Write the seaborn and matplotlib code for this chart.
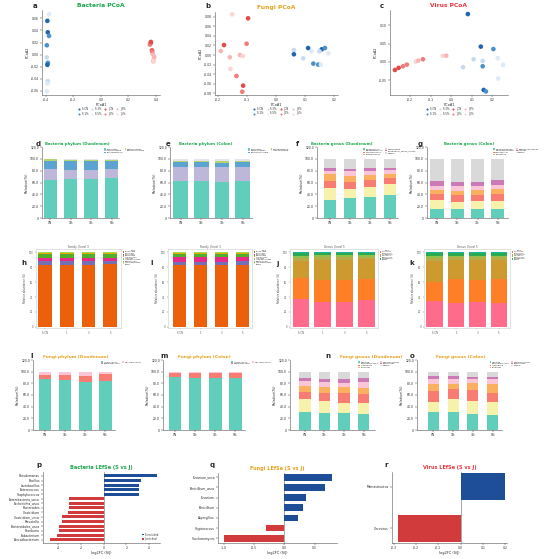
import numpy as np
import pandas as pd
import matplotlib
matplotlib.use("Agg")
import matplotlib.pyplot as plt
import seaborn as sns

# ============================================
# Data
# ============================================
groups = ["S CN", "S 1%", "S 3%", "S 5%", "J CN", "J 1%", "J 3%", "J 5%"]
group_colors = ["#2166ac", "#4a90c9", "#c6dbef", "#deebf7",
                "#e34a4a", "#f07c7c", "#f7b6b6", "#fbd5d5"]

a_x = [-0.376, -0.388, -0.385, -0.376, -0.392, -0.392, -0.383, -0.385, -0.388, -0.385, -0.388, -0.392,
       0.361, 0.356, 0.371, 0.376, 0.385, 0.380, 0.363, 0.372, 0.378, 0.383, 0.387, 0.381]
a_y = [0.067, 0.056, 0.037, 0.031, 0.0155, -0.0045, -0.013, -0.014, -0.017, -0.044, -0.048, -0.061,
       0.019, 0.0166, 0.007, 0.0017, -0.0067, -0.0107, 0.021, 0.005, 0.0, -0.009, -0.004, -0.012]
a_g = ["S 5%", "S CN", "S CN", "S 1%", "S 1%", "S 3%", "S 3%", "S 1%", "S CN", "S 3%", "S 5%", "S 5%",
       "J CN", "J 1%", "J CN", "J 3%", "J 5%", "J 1%", "J CN", "J 1%", "J 3%", "J 5%", "J 3%", "J 5%"]

b_x = [-0.151, -0.096, -0.101, -0.179, -0.190, -0.124, -0.114, -0.159, -0.157, -0.136, -0.113, -0.116,
       0.062, 0.062, 0.111, 0.123, 0.094, 0.129, 0.146, 0.155, 0.158, 0.169, 0.150, 0.181]
b_y = [0.085, 0.0766, 0.0236, 0.0209, 0.0084, 0.0, -0.002, -0.0048, -0.029, -0.0438, -0.064, -0.0766,
       0.0104, 0.0015, 0.0146, 0.0077, -0.0069, -0.018, -0.020, -0.020, 0.0119, 0.0146, 0.0077, 0.0035]
b_g = ["J 5%", "J CN", "J 1%", "J CN", "J 3%", "J 3%", "J 5%", "J 3%", "J 5%", "J 1%", "J CN", "J 1%",
       "S 3%", "S CN", "S CN", "S 5%", "S 3%", "S 1%", "S 1%", "S 5%", "S CN", "S 1%", "S 3%", "S 5%"]

c_x = [0.081, 0.144, 0.205, 0.109, 0.153, 0.226, 0.252, 0.153, 0.058, 0.228, 0.158, 0.169,
       -0.273, -0.255, -0.234, -0.215, -0.172, -0.160, -0.137, -0.041, -0.024]
c_y = [0.130, 0.0416, 0.035, 0.0073, 0.0027, 0.010, -0.008, -0.0117, -0.0144, -0.045, -0.076, -0.080,
       -0.0217, -0.016, -0.0117, -0.0073, 0.0008, 0.0035, 0.0073, 0.0163, 0.017]
c_g = ["S CN", "S CN", "S 1%", "S 3%", "S 3%", "S 5%", "S 5%", "S 1%", "S 3%", "S 5%", "S CN", "S 1%",
       "J CN", "J CN", "J 1%", "J 1%", "J 5%", "J 3%", "J 1%", "J 5%", "J 3%"]

doses = ["CN", "1%", "3%", "5%"]
doses_v = ["S CN", "1", "3", "5"]

# bacteria phylum
d_taxa = ["Firmicutes", "Actinobacteria", "Proteobacteria", "Bacteroidetes", "Verrucomicrobia"]
d_vals = [[65, 66, 66, 67], [17, 15, 15, 16], [15, 15.5, 15.5, 14], [2, 2, 2, 1.8], [1, 1.5, 1.5, 1.2]]
e_taxa = ["Firmicutes", "Bacteroidetes", "Verrucomicrobia", "Proteobacteria", "Actinobacteria"]
e_vals = [[62, 63, 61, 63], [25, 24, 26, 24], [7, 7, 6.5, 7], [3, 3, 3.5, 3], [3, 3, 3, 3]]
phylum_colors = ["#61cdbb", "#bdb7d9", "#5ba3d0", "#b3d66c", "#e6e3ef"]

# bacteria genus
f_taxa = ["Lactobacillus", "Bifidobacterium", "Streptococcus", "Enterococcus",
          "Romboutsia", "Clostridium_sensu_stricto", "Others"]
f_vals = [[31, 34.5, 35.7, 39], [19.4, 15.3, 16.3, 18.2], [12.4, 11.2, 12, 9.6], [10.8, 10.3, 9, 7.9],
          [6.2, 7.4, 6.2, 6.3], [4, 4.5, 4.6, 4], [16.2, 16.8, 16.2, 15]]
g_taxa = ["Muribaculaceae", "Lachnospiraceae", "Oscillibacter", "Prevotella",
          "Ruminococcaceae", "Alistipes", "Others"]
g_vals = [[15.8, 14.7, 15.8, 15.8], [14.2, 12.5, 12.5, 12.5], [10.2, 11.3, 10.2, 13], [7.9, 6.8, 8.5, 7.4],
          [6.8, 8.5, 7.3, 7.9], [6.8, 7.3, 6.8, 7.4], [38.3, 38.9, 38.9, 36]]
genus_colors = ["#61cdbb", "#f6f2ac", "#f97c73", "#fbb05f", "#fbc5d8", "#cc7ab6", "#d9d9d9"]

# virus family / genus
h_taxa = ["Siphoviridae", "Myoviridae", "Podoviridae", "Microviridae", "Herelleviridae",
          "Inoviridae", "Autographiviridae", "Drexlerviridae", "Ackermannviridae", "Others"]
h_vals = [[83.0, 83.2, 83.0, 84.3], [5.4, 5.0, 5.3, 4.2], [4.5, 4.6, 4.6, 4.5], [4.8, 4.8, 4.7, 4.6],
          [1.2, 1.3, 1.3, 1.3], [0.3] * 4, [0.25] * 4, [0.2] * 4, [0.2] * 4, [0.15] * 4]
i_vals = [[83.0, 82.8, 83.1, 83.2], [4.7, 4.9, 4.6, 4.8], [5.5, 5.4, 5.5, 5.2], [4.4, 4.6, 4.5, 4.5],
          [1.2, 1.1, 1.1, 1.1], [0.35] * 4, [0.3] * 4, [0.25] * 4, [0.2] * 4, [0.1] * 4]
family_colors = ["#ec5f0b", "#7570b3", "#e7298a", "#4daf2a", "#e6ab02",
                 "#f4a582", "#66c2a5", "#8da0cb", "#a6d854", "#fdd49e"]
j_taxa = ["Skunavirus", "Teubervirus", "Sandinevirus", "Tubulavirus",
          "Pahexavirus", "Lambdavirus", "Others"]
j_vals = [[37.3, 34.0, 34.0, 35.4], [28.7, 28.7, 28.7, 29.2], [22.6, 27.3, 27.0, 26.0], [4.4, 3.5, 3.8, 3.4],
          [2.4, 2.3, 2.3, 2.2], [3.6, 3.2, 3.2, 2.8], [1.0] * 4]
k_vals = [[34.5, 31.5, 34.0, 31.5], [26.0, 32.1, 28.3, 33.1], [28.3, 25.6, 26.9, 24.6], [4.2, 4.0, 4.0, 4.0],
          [2.5] * 4, [3.5, 3.3, 3.3, 3.3], [1.0] * 4]
vgenus_colors = ["#ff6b8b", "#ff7f27", "#cc9a2e", "#b8ab4a", "#8fc24a", "#2bab4f", "#19b3a3"]

# fungi phylum / genus
l_taxa = ["Ascomycota", "Basidiomycota", "Mucoromycota"]
l_vals = [[86.9, 85.7, 82.9, 84.0], [7.4, 8.6, 9.7, 11.4], [5.7, 5.7, 7.4, 4.6]]
m_vals = [[90.3, 88.6, 89.7, 88.6], [6.8, 8.5, 7.4, 8.5], [2.9] * 4]
fphylum_colors = ["#61cdbb", "#f97c73", "#fbc5d8"]
n_taxa = ["Candida", "Saccharomyces", "Aspergillus", "Fusarium", "Debaryomyces", "Penicillium", "Others"]
n_vals = [[31.4, 28.6, 29.7, 26.9], [21.2, 21.1, 16, 20], [13.1, 14.3, 18.3, 14.1], [10.3, 9, 9, 10.4],
          [8.6, 9.3, 8, 10.9], [5.1, 5.1, 6.4, 6.3], [10.3, 12.6, 12.6, 11.4]]
o_vals = [[31.4, 30.3, 26.9, 25.7], [17.2, 22.8, 22.8, 22.9], [17.7, 16.6, 18.9, 15.4], [12, 9.7, 11.4, 14.3],
          [8.6, 7.5, 6.9, 9.1], [6.2, 6.2, 4, 4], [6.9, 6.9, 9.1, 8.6]]

# LEfSe
p_names = ["Pseudomonas", "Bacillus", "Lactobacillus", "Enterococcus", "Staphylococcus",
           "Enterobacteria_unca", "Escherichia_unca", "Bacteroides", "Clostridium", "Clostridium_unca",
           "Prevotella", "Bacteroidales_unca", "Roseburia", "Eubacterium", "Faecalibacterium"]
p_lfc = [4.72, 3.29, 3.14, 3.12, 3.08, -3.03, -3.06, -3.09, -3.17, -3.65, -3.65, -3.91, -3.97, -4.14, -4.76]
q_names = ["Fusarium_unca", "Penicillium_unca", "Fusarium", "Penicillium", "Aspergillus",
           "Cryptococcus", "Saccharomyces"]
q_lfc = [0.79, 0.67, 0.36, 0.31, 0.22, -0.30, -1.0]
r_names = ["Mamastrovirus", "Circovirus"]
r_lfc = [0.2, -0.28]

GREEN, ORANGE, RED = "#1aa64a", "#e6a21e", "#e8373e"
S_BLUE, J_RED = "#1f4e99", "#d13b3b"

# ============================================
# Figure setup
# ============================================
sns.set_theme(style="ticks")
plt.rcParams["font.family"] = ["DejaVu Sans"]
plt.rcParams["axes.linewidth"] = 0.4
plt.rcParams["axes.edgecolor"] = "#555555"

W, H = 550, 559
fig = plt.figure(figsize=(5.5, 5.59), dpi=100)


def rect(l, t, r, b):
    return [l / W, 1 - b / H, (r - l) / W, (b - t) / H]


def letter(x, y, s):
    fig.text(x / W, 1 - y / H, s, fontsize=5, fontweight="bold", va="center", ha="left")


def style(ax):
    sns.despine(ax=ax)
    ax.tick_params(labelsize=2.2, length=1.2, width=0.3, pad=1)


def pcoa(box, xs, ys, grp, title, color, xticks, yticks, xlim, ylim, xf, yf):
    ax = fig.add_axes(rect(*box))
    df = pd.DataFrame({"PCoA1": xs, "PCoA2": ys, "Group": grp})
    sns.scatterplot(data=df, x="PCoA1", y="PCoA2", hue="Group", hue_order=groups,
                    palette=dict(zip(groups, group_colors)), s=11, linewidth=0, ax=ax)
    ax.set_xlim(xlim)
    ax.set_ylim(ylim)
    ax.set_xticks(xticks)
    ax.set_xticklabels([xf % t for t in xticks])
    ax.set_yticks(yticks)
    ax.set_yticklabels([yf % t for t in yticks])
    style(ax)
    ax.set_xlabel("PCoA1", fontsize=2.5, labelpad=1)
    ax.set_ylabel("PCoA2", fontsize=2.5, labelpad=1)
    ax.set_title(title, fontsize=4.3, fontweight="bold", color=color, pad=2)
    ax.legend(loc="upper center", bbox_to_anchor=(0.5, -0.13), ncol=4, fontsize=1.8,
              markerscale=0.45, frameon=False, handletextpad=0.1, columnspacing=0.6,
              borderpad=0, labelspacing=0.15)
    return ax


def stacked(box, taxa, vals, colors, title, tcolor, tsize, tx, width, xlim, leg_x):
    ax = fig.add_axes(rect(*box))
    x = np.arange(4)
    bottom = np.zeros(4)
    for name, v, c in zip(taxa, vals, colors):
        ax.bar(x, v, width, bottom=bottom, color=c, label=name, linewidth=0)
        bottom += np.array(v)
    ax.set_xlim(xlim)
    ax.set_ylim(0, 120)
    ax.set_xticks(x)
    ax.set_xticklabels(doses)
    yt = [0, 20, 40, 60, 80, 100, 120]
    ax.set_yticks(yt)
    ax.set_yticklabels(["0"] + ["%.1f" % t for t in yt[1:]])
    style(ax)
    ax.set_ylabel("Relative(%)", fontsize=2.5, labelpad=1)
    ax.set_title(title, fontsize=tsize, fontweight="bold", color=tcolor, pad=1.5, x=tx)
    ax.legend(loc="upper left", bbox_to_anchor=(leg_x, 1.0), ncol=2, fontsize=1.6,
              frameon=False, handlelength=0.8, handleheight=0.6, handletextpad=0.3,
              columnspacing=0.8, borderpad=0, labelspacing=0.15)
    return ax


def boxed(box, taxa, vals, colors, title, width, xlim):
    ax = fig.add_axes(rect(*box))
    x = np.arange(4)
    bottom = np.zeros(4)
    for name, v, c in zip(taxa, vals, colors):
        ax.bar(x, v, width, bottom=bottom, color=c, label=name, linewidth=0)
        bottom += np.array(v)
    ax.set_xlim(xlim)
    ax.set_ylim(-1.5, 104.5)
    ax.set_xticks(x)
    ax.set_xticklabels(doses_v)
    ax.set_yticks([0, 20, 40, 60, 80, 100])
    for sp in ax.spines.values():
        sp.set_color("#cccccc")
        sp.set_linewidth(0.4)
    ax.tick_params(labelsize=1.8, length=1, width=0.3, pad=1, colors="#555555")
    ax.set_ylabel("Relative abundance (%)", fontsize=1.8, labelpad=1, color="#444444")
    ax.set_title(title, fontsize=2.0, color="#555555", pad=1)
    ax.legend(loc="upper left", bbox_to_anchor=(1.01, 1.0), fontsize=1.3, title="Taxa",
              title_fontsize=1.5, frameon=False, handlelength=0.8, handleheight=0.5,
              handletextpad=0.3, borderpad=0, labelspacing=0.1)
    return ax


def lefse(box, names, vals, title, tcolor, xticks, xf, xlim, ylim, legend):
    ax = fig.add_axes(rect(*box))
    df = pd.DataFrame({"Taxon": names, "LFC": vals})
    df["Group"] = np.where(df["LFC"] > 0, "S enriched", "J enriched")
    sns.barplot(data=df, y="Taxon", x="LFC", hue="Group", hue_order=["S enriched", "J enriched"],
                palette={"S enriched": S_BLUE, "J enriched": J_RED}, dodge=False, width=0.65,
                saturation=1, linewidth=0, ax=ax, legend=legend)
    ax.axvline(0, color="#999999", lw=0.6, zorder=0)
    ax.set_xlim(xlim)
    ax.set_ylim(ylim)
    ax.set_xticks(xticks)
    ax.set_xticklabels([xf % t for t in xticks])
    style(ax)
    ax.set_ylabel("")
    ax.set_xlabel("log2FC (S/J)", fontsize=2.5, labelpad=1)
    ax.set_title(title, fontsize=3.6, fontweight="bold", color=tcolor, pad=2)
    if legend:
        ax.legend(loc="lower right", fontsize=1.8, frameon=False, handlelength=0.8,
                  handleheight=0.5, handletextpad=0.4, borderpad=0.3, labelspacing=0.2)
    return ax


# ============================================
# Row 1: PCoA
# ============================================
pcoa((42, 10, 160, 95), a_x, a_y, a_g, "Bacteria PCoA", GREEN,
     [-0.4, -0.2, 0.0, 0.2, 0.4], [-0.06, -0.04, -0.02, 0.0, 0.02, 0.04, 0.06],
     (-0.427, 0.429), (-0.067, 0.074), "%.1f", "%.2f")
pcoa((215, 12, 338, 95), b_x, b_y, b_g, "Fungi PCoA", ORANGE,
     [-0.2, -0.1, 0.0, 0.1, 0.2], [-0.08, -0.06, -0.04, -0.02, 0.0, 0.02, 0.04, 0.06, 0.08],
     (-0.21, 0.214), (-0.0835, 0.0898), "%.1f", "%.2f")
pcoa((390, 10, 508, 95), c_x, c_y, c_g, "Virus PCoA", RED,
     [-0.2, -0.1, 0.0, 0.1, 0.2], [-0.05, 0.0, 0.05, 0.10],
     (-0.297, 0.276), (-0.0897, 0.141), "%.1f", "%.2f")
letter(33, 6, "a")
letter(205, 6, "b")
letter(380, 6, "c")

# ============================================
# Row 2: bacteria composition
# ============================================
stacked((42, 147, 119, 218), d_taxa, d_vals, phylum_colors, "Bacteria phylum (Duodenum)", GREEN,
        2.8, 0.46, 0.65, (-0.4, 3.36), 0.79)
stacked((170, 147, 252, 218), e_taxa, e_vals, phylum_colors, "Bacteria phylum (Colon)", GREEN,
        2.8, 0.44, 0.72, (-0.52, 3.45), 0.94)
stacked((317, 147, 398, 218), f_taxa, f_vals, genus_colors, "Bacteria genus (Duodenum)", GREEN,
        2.8, 0.31, 0.63, (-0.65, 3.4), 0.56)
stacked((427, 147, 508, 218), g_taxa, g_vals, genus_colors, "Bacteria genus (Colon)", GREEN,
        2.8, 0.52, 0.65, (-0.49, 3.5), 0.8)
letter(36, 144, "d")
letter(166, 144, "e")
letter(296, 144, "f")
letter(418, 144, "g")

# ============================================
# Row 3: virus composition
# ============================================
boxed((36, 249, 121, 328), h_taxa, h_vals, family_colors, "Family | level 3", 0.62, (-0.42, 3.5))
boxed((168, 249, 252, 328), h_taxa, i_vals, family_colors, "Family | level 3", 0.62, (-0.55, 3.45))
boxed((290, 249, 378, 328), j_taxa, j_vals, vgenus_colors, "Genus | level 5", 0.76, (-0.5, 3.53))
boxed((424, 249, 510, 328), j_taxa, k_vals, vgenus_colors, "Genus | level 5", 0.78, (-0.5, 3.52))
letter(21, 263, "h")
letter(150, 263, "i")
letter(276, 264, "j")
letter(409, 263, "k")

# ============================================
# Row 4: fungi composition
# ============================================
stacked((33, 360, 115, 430), l_taxa, l_vals, fphylum_colors, "Fungi phylum (Duodenum)", ORANGE,
        3.2, 0.52, 0.62, (-0.61, 3.48), 0.82)
stacked((163, 360, 245, 430), l_taxa, m_vals, fphylum_colors, "Fungi phylum (Colon)", ORANGE,
        3.2, 0.51, 0.62, (-0.61, 3.48), 0.82)
stacked((290, 360, 375, 430), n_taxa, n_vals, genus_colors, "Fungi genus (Duodenum)", ORANGE,
        3.2, 0.96, 0.59, (-0.75, 3.58), 0.79)
stacked((417, 360, 502, 430), n_taxa, o_vals, genus_colors, "Fungi genus (Colon)", ORANGE,
        3.2, 0.52, 0.55, (-0.82, 3.47), 0.84)
letter(30, 356, "l")
letter(160, 356, "m")
letter(325, 356, "n")
letter(410, 356, "o")

# ============================================
# Row 5: LEfSe
# ============================================
lefse((43, 472, 160, 543), p_names, p_lfc, "Bacteria LEfSe (S vs J)", GREEN,
      [-4, -2, 0, 2, 4], "%d", (-5.35, 4.96), (14.72, -0.87), True)
lefse((218, 473, 337, 543), q_names, q_lfc, "Fungi LEfSe (S vs J)", ORANGE,
      [-1.0, -0.5, 0.0, 0.5], "%.1f", (-1.1, 0.87), (6.46, -0.42), False)
lefse((392, 472, 507, 543), r_names, r_lfc, "Virus LEfSe (S vs J)", RED,
      [-0.3, -0.2, -0.1, 0.0, 0.1, 0.2], "%.1f", (-0.308, 0.208), (1.35, -0.35), False)
letter(36, 465, "p")
letter(210, 465, "q")
letter(384, 465, "r")

plt.savefig("out.png", dpi=100)
